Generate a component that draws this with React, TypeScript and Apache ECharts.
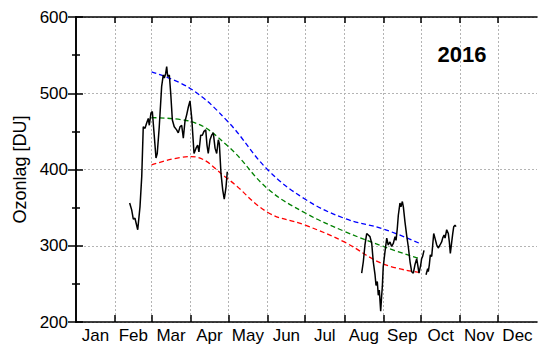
import React, { useEffect, useRef } from "react";
import * as echarts from "echarts";

const monthNames = ["Jan", "Feb", "Mar", "Apr", "May", "Jun", "Jul", "Aug", "Sep", "Oct", "Nov", "Dec"];
const monthStarts = [0, 31, 60, 91, 121, 152, 182, 213, 244, 274, 305, 335, 366];
const yMin = 200;
const yMax = 600;
const yStep = 100;
const yearLabel = "2016";
const yName = "Ozonlag [DU]";

// reference curves (day of year, DU)
const refDays = [60, 91, 121, 152, 182, 213, 244, 273];
const upperRef = [528, 506, 462, 400, 361, 336, 322, 303];
const middleRef = [468, 463, 430, 375, 343, 319, 299, 283];
const lowerRef = [406, 417, 387, 344, 327, 305, 276, 265];

// measured total ozone (day of year, DU), three segments
const ozoneFebApr: [number, number][] = [
  [42.6, 356], [44.2, 347], [45.5, 335], [46.8, 336], [49.0, 321], [50.8, 351], [52.2, 391],
  [53.4, 456], [54.8, 454], [56.1, 461], [57.4, 467], [58.2, 458], [59.5, 474], [60.6, 476],
  [62.2, 443], [63.5, 415], [64.5, 421], [66.1, 456], [68.0, 509], [69.3, 524], [70.1, 520],
  [71.2, 526], [72.0, 535], [72.8, 522], [74.1, 524], [75.2, 500], [76.5, 465], [78.0, 456],
  [79.9, 452], [81.2, 448], [82.6, 456], [83.9, 458], [85.2, 441], [86.5, 463], [87.9, 472],
  [89.2, 482], [90.5, 490], [91.9, 467], [93.7, 421], [95.3, 428], [96.6, 432], [97.6, 423],
  [99.0, 445], [100.3, 445], [101.6, 450], [103.0, 452], [104.0, 432], [105.0, 421], [106.4, 439],
  [107.7, 445], [109.0, 448], [110.4, 428], [111.7, 421], [113.0, 439], [113.8, 434], [115.1, 395],
  [116.5, 373], [117.7, 361], [119.1, 377], [120.1, 397],
];
const ozoneAugSep: [number, number][] = [
  [226.8, 264], [228.1, 279], [229.4, 301], [230.8, 316], [232.1, 314], [233.4, 312], [234.8, 303],
  [236.0, 279], [237.4, 262], [238.2, 248], [239.2, 253], [240.0, 235], [240.8, 242], [241.9, 214],
  [242.7, 235], [243.2, 246], [243.9, 272], [245.3, 292], [246.7, 310], [247.9, 301], [249.3, 305],
  [250.6, 299], [251.9, 303], [253.3, 312], [254.1, 307], [255.1, 323], [255.9, 340], [257.2, 356],
  [258.0, 351], [259.1, 358], [259.9, 351], [261.2, 331], [262.5, 314], [263.8, 299], [265.2, 279],
  [266.5, 266], [267.8, 264], [269.1, 275], [270.5, 283], [271.3, 275], [272.3, 264], [273.7, 275],
  [274.4, 283], [275.2, 286], [276.3, 294],
];
const ozoneSepOct: [number, number][] = [
  [277.9, 262], [279.2, 270], [279.7, 266], [280.5, 275], [281.3, 288], [282.4, 286], [283.2, 301],
  [284.0, 316], [285.0, 310], [286.4, 301], [287.6, 297], [289.0, 301], [290.3, 305], [291.1, 310],
  [292.2, 314], [293.0, 310], [294.3, 321], [295.6, 316], [296.4, 305], [297.2, 290], [298.3, 305],
  [299.1, 316], [299.9, 325], [300.9, 327], [301.7, 325],
];

const FONT = "Liberation Sans";

export default function App() {
  const ref = useRef<HTMLDivElement>(null);
  useEffect(() => {
    if (!ref.current) return;
    const chart = echarts.init(ref.current, undefined, { renderer: "svg" });
    const inner = monthStarts.slice(1, 12);
    const mids = monthStarts.slice(0, 12).map((s, i) => (s + monthStarts[i + 1]) / 2);
    const monthOf = (v: number) => {
      for (let i = 0; i < 12; i++) if (v >= monthStarts[i] && v < monthStarts[i + 1]) return monthNames[i];
      return "";
    };
    const refPairs = (vals: number[]) => refDays.map((d, i) => [d, vals[i]]);
    const dashed = (vals: number[], color: string) => ({
      type: "line",
      data: refPairs(vals),
      smooth: 0.4,
      symbol: "none",
      lineStyle: { color, width: 1.3, type: [5, 3] },
      z: 3,
    });
    const obs = (d: [number, number][]) => ({
      type: "line",
      data: d,
      symbol: "none",
      lineStyle: { color: "#000", width: 1.5 },
      z: 4,
    });
    const gridLine = { show: true, lineStyle: { color: "#b4b4b4", width: 1, type: [2, 2] } };
    const axisLine = { show: true, lineStyle: { color: "#000", width: 1.6 } };
    chart.setOption({
      animation: false,
      grid: { left: 76, top: 17, right: 1, bottom: 27, containLabel: false },
      xAxis: [
        {
          type: "value",
          min: 0,
          max: 366,
          position: "bottom",
          axisLine,
          axisTick: { show: true, inside: true, length: 7, customValues: inner, lineStyle: { color: "#000", width: 1.5 } },
          axisLabel: {
            show: true,
            customValues: mids,
            formatter: (v: number) => monthOf(v),
            color: "#000",
            fontFamily: FONT,
            fontSize: 17,
            margin: 5,
          },
          splitLine: gridLine,
        },
        {
          type: "value",
          min: 0,
          max: 366,
          position: "top",
          axisLine,
          axisTick: { show: true, inside: true, length: 6, customValues: inner, lineStyle: { color: "#000", width: 1.5 } },
          axisLabel: { show: false },
          splitLine: { show: false },
        },
      ],
      yAxis: [
        {
          type: "value",
          min: yMin,
          max: yMax,
          interval: yStep,
          position: "left",
          name: yName,
          nameLocation: "middle",
          nameGap: 46,
          nameTextStyle: { color: "#000", fontFamily: FONT, fontSize: 18 },
          axisLine,
          axisTick: { show: true, inside: true, length: 7, lineStyle: { color: "#000", width: 1.5 } },
          minorTick: { show: true, splitNumber: 2, length: 4, lineStyle: { color: "#000", width: 1.5 } },
          axisLabel: { color: "#000", fontFamily: FONT, fontSize: 17, margin: 8 },
          splitLine: gridLine,
        },
        {
          type: "value",
          min: yMin,
          max: yMax,
          interval: yStep,
          position: "right",
          axisLine,
          axisTick: { show: true, inside: true, length: 8, lineStyle: { color: "#000", width: 1.5 } },
          minorTick: { show: true, splitNumber: 2, length: 4, lineStyle: { color: "#000", width: 1.5 } },
          axisLabel: { show: false },
          splitLine: { show: false },
        },
      ],
      graphic: [
        {
          type: "text",
          x: 462,
          y: 54,
          style: {
            text: yearLabel,
            fill: "#000",
            font: `bold 22px "${FONT}"`,
            textAlign: "center",
            textVerticalAlign: "middle",
          },
          z: 10,
        },
      ],
      series: [
        dashed(upperRef, "#0000ff"),
        dashed(middleRef, "#008000"),
        dashed(lowerRef, "#ff0000"),
        obs(ozoneFebApr),
        obs(ozoneAugSep),
        obs(ozoneSepOct),
      ],
    });
    return () => chart.dispose();
  }, []);
  return <div ref={ref} style={{ position: "fixed", left: 0, top: 0, width: 538, height: 349, background: "#fff" }} />;
}
